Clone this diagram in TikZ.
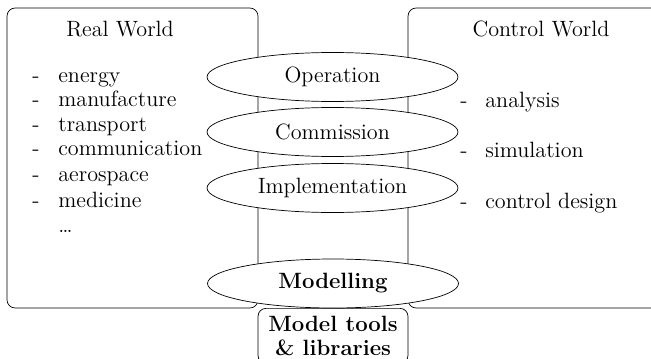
\documentclass[tikz,border=0pt]{standalone}
\usetikzlibrary{shapes.geometric}

\tikzset{
  world/.style={draw, rounded corners=0.16cm, inner sep=0pt},
  task/.style={draw, ellipse, fill=white, minimum width=5.02cm, minimum height=0.98cm, inner sep=0pt},
  item/.style={anchor=base west, inner sep=0pt},
}

\begin{document}
\begin{tikzpicture}[x=0.02cm, y=-0.02cm, font=\fontsize{12.6}{15}\selectfont]
  \useasboundingbox (0,0) rectangle (651,358);

  % Les deux mondes
  \node[world, minimum width=5.02cm, minimum height=6cm] (real) at (132.5,158) {};
  \node[world, minimum width=5.84cm, minimum height=6cm] (ctrl) at (554,158) {};
  \node[anchor=base, inner sep=0pt] (realtitle) at (120,37) {Real World};
  \node[anchor=base, inner sep=0pt] (ctrltitle) at (541,37) {Control World};

  % Liste du monde reel
  \foreach \txt/\y [count=\i] in {energy/82, manufacture/106, transport/131,
      communication/155, aerospace/181, medicine/207} {
    \node[item] (rdash\i) at (32,\y) {-};
    \node[item] (ritem\i) at (58,\y) {\txt};
  }
  \node[item] (rdots) at (58,232) {\dots};

  % Liste du monde de controle
  \foreach \txt/\y [count=\i] in {analysis/107, simulation/157, control design/208} {
    \node[item] (cdash\i) at (460,\y) {-};
    \node[item] (citem\i) at (485,\y) {\txt};
  }

  % Outils
  \node[world, anchor=north, minimum width=3cm, minimum height=1.1cm, align=center,
        inner sep=1pt, font=\fontsize{12.6}{13.5}\selectfont\bfseries] (tools) at (333,308)
        {Model tools\\ \& libraries};

  % Les etapes
  \node[task] (oper) at (332.5,77) {Operation};
  \node[task] (comm) at (332.5,132) {Commission};
  \node[task] (impl) at (332.5,188) {Implementation};
  \node[task, font=\fontsize{12.6}{15}\selectfont\bfseries] (model) at (333,283.5) {Modelling};
\end{tikzpicture}
\end{document}
